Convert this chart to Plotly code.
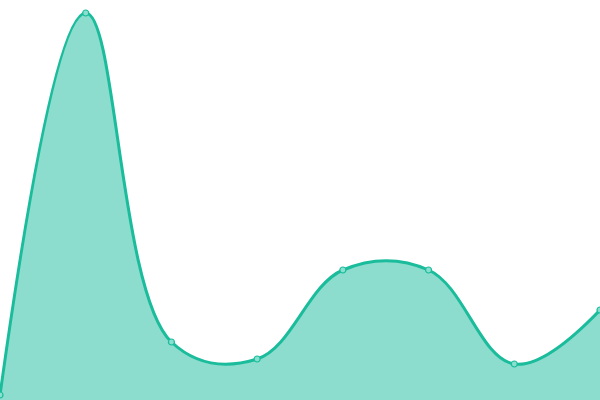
import plotly.graph_objects as go

# data
x_vals = [0, 1, 2, 3, 4, 5, 6, 7]
y_vals = [5, 387, 58, 41, 130, 130, 36, 90]

line_color = "#1abc9c"

fig = go.Figure()
fig.add_trace(go.Scatter(
    x=x_vals, y=y_vals,
    mode="lines+markers",
    line={"color": line_color, "width": 3, "shape": "spline", "smoothing": 1.1},
    marker={"size": 6, "color": "#8ae0cf", "line": {"color": line_color, "width": 1.2}},
    fill="tozeroy",
    fillcolor="rgba(26,188,156,0.5)",
    hoverinfo="skip",
))

fig.update_layout(
    width=600, height=400,
    margin={"l": 0, "r": 0, "t": 0, "b": 0},
    paper_bgcolor="white", plot_bgcolor="white",
    showlegend=False,
    xaxis={"range": [0, 7], "visible": False},
    yaxis={"range": [0, 400], "visible": False},
)

# page has a default body margin, drop it so the chart fills the window
fig.write_html(
    "out.html",
    config={"displayModeBar": False},
    post_script="document.body.style.margin='0';document.body.style.overflow='hidden';",
)
